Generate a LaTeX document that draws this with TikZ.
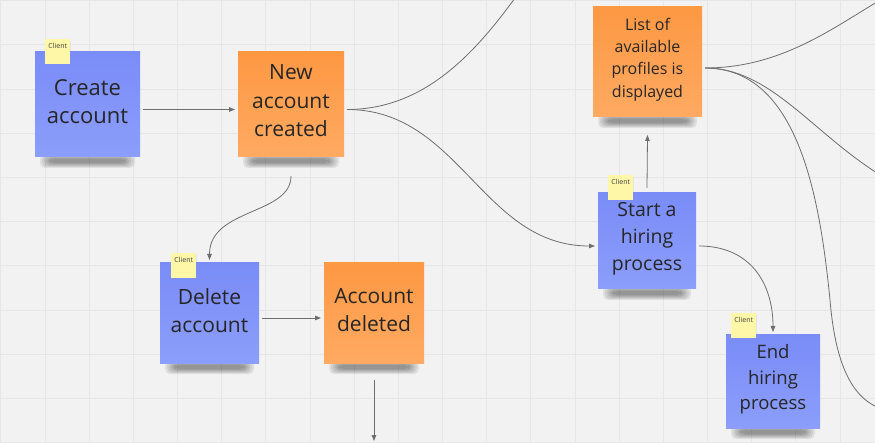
\documentclass[tikz,border=0pt]{standalone}
\usepackage{fontspec}
\setmainfont{Open Sans}
\usetikzlibrary{arrows.meta,calc}
\definecolor{bgc}{HTML}{F2F2F2}
\definecolor{gridc}{HTML}{E6E6E6}
\definecolor{bluetop}{HTML}{7A8CF7}
\definecolor{bluebot}{HTML}{8C9EFA}
\definecolor{orgtop}{HTML}{FD9843}
\definecolor{orgbot}{HTML}{FEAA62}
\definecolor{tagc}{HTML}{FFF7A8}
\definecolor{txtc}{HTML}{262626}
\definecolor{linec}{HTML}{6E6E6E}
\pgfdeclarelayer{bg}
\pgfdeclarelayer{shad}
\pgfsetlayers{bg,shad,main}
\newcommand{\stshadow}[1]{%
  \begin{pgfonlayer}{shad}
  \foreach \i in {0,...,5}{
    \fill[black,opacity=0.075,rounded corners=5pt]
      ($(#1.south west)+(8+2*\i,-6+\i)$) rectangle ($(#1.south east)+(-8-2*\i,8-\i)$);}
  \end{pgfonlayer}}
\begin{document}
\begin{tikzpicture}[x=1pt,y=-1pt,
  bluenote/.style={rectangle,shading=axis,top color=bluetop,bottom color=bluebot,inner sep=0pt,outer sep=3pt},
  orgnote/.style={rectangle,shading=axis,top color=orgtop,bottom color=orgbot,inner sep=0pt,outer sep=3pt},
  notetext/.style={align=center,text=txtc,inner sep=0pt},
  clienttag/.style={rectangle,fill=tagc,minimum width=25pt,inner xsep=0pt,inner ysep=3pt,text height=6pt,text depth=13pt,font=\fontsize{7}{8}\selectfont,text=black!75},
  conn/.style={draw=linec,line width=0.8pt},
  arr/.style={-{Triangle[length=6pt,width=4.5pt]}}
]
\useasboundingbox (0,0) rectangle (875,443);
\begin{pgfonlayer}{bg}
  \fill[bgc] (0,0) rectangle (875,443);
  \foreach \k in {0,...,19}{
    \draw[gridc,line width=1pt] (0.83+44.17*\k,0) -- (0.83+44.17*\k,443);}
  \foreach \k in {0,...,10}{
    \draw[gridc,line width=1pt] (0,0.83+44.17*\k) -- (875,0.83+44.17*\k);}
\end{pgfonlayer}

% sticky notes
\node[bluenote,minimum width=105pt,minimum height=105pt] (create) at (87.5,104.5) {};
\node[orgnote,minimum width=106pt,minimum height=105pt] (new) at (291,104.5) {};
\node[orgnote,minimum width=109pt,minimum height=110pt] (list) at (647.5,62) {};
\node[bluenote,minimum width=98pt,minimum height=96pt] (start) at (647,241) {};
\node[bluenote,minimum width=99pt,minimum height=100pt] (delete) at (209.5,313) {};
\node[orgnote,minimum width=100pt,minimum height=100pt] (deleted) at (374,313) {};
\node[bluenote,minimum width=94pt,minimum height=93pt] (end) at (773,381.5) {};
\stshadow{create}\stshadow{new}\stshadow{list}\stshadow{start}\stshadow{delete}\stshadow{deleted}\stshadow{end}

% texts
\node[notetext,font=\fontsize{22}{28}\selectfont] (createT) at ([yshift=3pt]create.center) {Create\\account};
\node[notetext,font=\fontsize{21}{28.5}\selectfont] (newT) at ([yshift=3.5pt]new.center) {New\\account\\created};
\node[notetext,font=\fontsize{16}{22.3}\selectfont] (listT) at ([yshift=2.5pt]list.center) {List of\\available\\profiles is\\displayed};
\node[notetext,font=\fontsize{19.5}{27}\selectfont] (startT) at ([yshift=2.5pt]start.center) {Start a\\hiring\\process};
\node[notetext,font=\fontsize{21}{28}\selectfont] (deleteT) at ([yshift=2.5pt]delete.center) {Delete\\account};
\node[notetext,font=\fontsize{21}{28}\selectfont] (deletedT) at ([yshift=2.5pt]deleted.center) {Account\\deleted};
\node[notetext,font=\fontsize{18.5}{25.5}\selectfont] (endT) at ([yshift=2pt]end.center) {End\\hiring\\process};

% client tags
\begin{pgfonlayer}{shad}
  \foreach \p in {(45,39),(608,175),(171,253),(731,313)}{
    \fill[black,opacity=0.06] \p ++(1,2) rectangle ++(25,25);}
\end{pgfonlayer}
\node[clienttag,anchor=north west] (tag1) at (45,39) {Client};
\node[clienttag,anchor=north west] (tag2) at (608,175) {Client};
\node[clienttag,anchor=north west] (tag3) at (171,253) {Client};
\node[clienttag,anchor=north west] (tag4) at (731,313) {Client};

% free ends
\coordinate (c2) at (515,-2);
\coordinate (c6) at (374,441);
\coordinate (c9a) at (877,2);
\coordinate (c9b) at (877,173);
\coordinate (c9m) at (830,300);
\coordinate (c9c) at (877,407);

% connectors
\draw[conn,arr] ([yshift=-5pt]create.east) -- ([yshift=-5pt]new.west);
\draw[conn] ([yshift=-5pt]new.east) .. controls +(73,0) and (470,60) .. (c2);
\draw[conn,arr] ([yshift=-5pt]new.east) .. controls +(113,0) and +(-113,0) .. ([yshift=-5pt]start.west);
\draw[conn,arr] ([yshift=-16pt]new.south) .. controls +(0,39) and +(0,-52) .. (delete.north);
\draw[conn,arr] ([yshift=-5pt]delete.east) -- ([yshift=-5pt]deleted.west);
\draw[conn,arr] ([yshift=-14pt]deleted.south) -- (c6);
\draw[conn,arr] ([yshift=2pt]start.north) -- ([yshift=-15pt]list.south);
\draw[conn,arr] ([yshift=-5pt]start.east) .. controls +(51,0) and +(0,-49) .. (end.north);
\draw[conn] ([yshift=-6pt]list.east) .. controls +(74,0) and (830,30) .. (c9a);
\draw[conn] ([yshift=-6pt]list.east) .. controls +(64,0) and (810,130) .. (c9b);
\draw[conn] ([yshift=-6pt]list.east) .. controls +(94,0) and (820,200) .. (c9m) .. controls (835,360) and (850,395) .. (c9c);
\end{tikzpicture}
\end{document}
